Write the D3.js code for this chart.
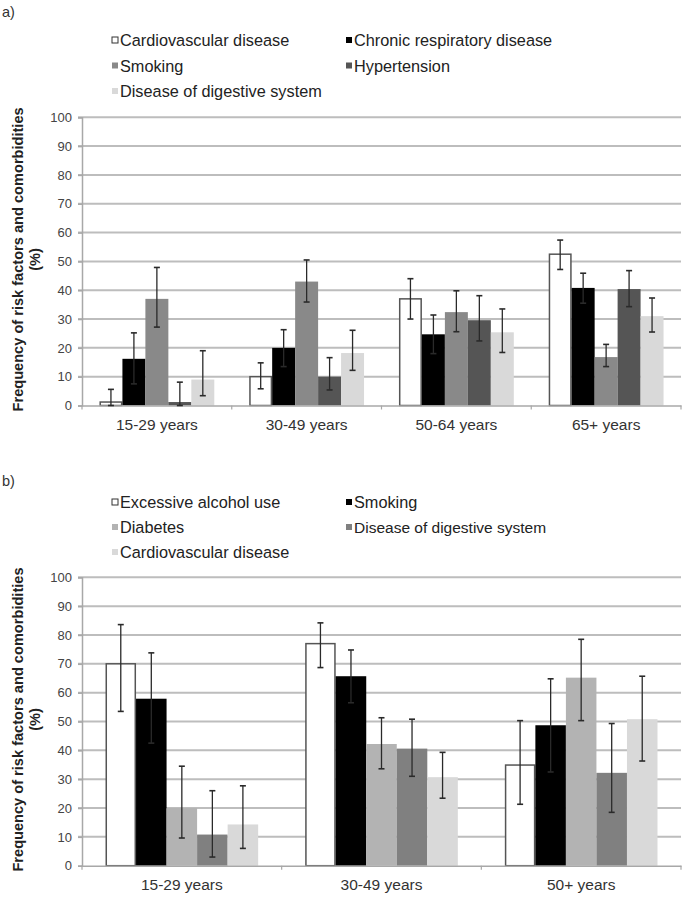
<!DOCTYPE html>
<html><head><meta charset="utf-8">
<script src="https://cdn.jsdelivr.net/npm/d3@7"></script>
<style>body{margin:0;background:#fff}svg{display:block}text{font-family:"Liberation Sans",Arial,sans-serif}</style>
</head><body><svg id="c" width="685" height="900"></svg>
<script>
// ---------- Panel a data ----------
const catsA = ["15-29 years","30-49 years","50-64 years","65+ years"];
const seriesA = ["Cardiovascular disease","Chronic respiratory disease","Smoking","Hypertension","Disease of digestive system"];
const colorsA = ["#ffffff","#000000","#898989","#555555","#d9d9d9"];
const valA_cvd  = [1.2, 10, 37, 52.5];
const valA_crd  = [16.2, 20, 24.7, 40.8];
const valA_smk  = [37, 43, 32.4, 16.8];
const valA_hyp  = [1.2, 10, 29.6, 40.4];
const valA_dig  = [9, 18.2, 25.4, 31];
const lowA_cvd  = [0, 5.8, 30, 47.2];
const lowA_crd  = [7.5, 13.5, 18, 35.5];
const lowA_smk  = [27.2, 35.9, 25.6, 13.5];
const lowA_hyp  = [0, 5.4, 22.4, 34.3];
const lowA_dig  = [3.4, 12.2, 18.4, 25.5];
const highA_cvd = [5.6, 14.8, 44, 57.4];
const highA_crd = [25.2, 26.3, 31.4, 45.9];
const highA_smk = [47.9, 50.5, 39.8, 21.2];
const highA_hyp = [8.1, 16.6, 38.1, 46.8];
const highA_dig = [19, 26.1, 33.5, 37.3];

// ---------- Panel b data ----------
const catsB = ["15-29 years","30-49 years","50+ years"];
const seriesB = ["Excessive alcohol use","Smoking","Diabetes","Disease of digestive system","Cardiovascular disease"];
const colorsB = ["#ffffff","#000000","#b3b3b3","#808080","#d9d9d9"];
const valB_alc  = [70, 77, 34.9];
const valB_smk  = [57.9, 65.7, 48.7];
const valB_dia  = [20, 42.2, 65.2];
const valB_dig  = [10.8, 40.6, 32.2];
const valB_cvd  = [14.3, 30.7, 50.8];
const lowB_alc  = [53.5, 68.7, 21.3];
const lowB_smk  = [42.5, 56.5, 32.5];
const lowB_dia  = [9.6, 33.6, 50.3];
const lowB_dig  = [3, 31, 18.5];
const lowB_cvd  = [6, 23.4, 36.3];
const highB_alc = [83.6, 84.2, 50.3];
const highB_smk = [73.8, 74.8, 64.8];
const highB_dia = [34.5, 51.3, 78.5];
const highB_dig = [26, 50.8, 49.3];
const highB_cvd = [27.7, 39.3, 65.7];

const yTicks = [0,10,20,30,40,50,60,70,80,90,100];
const yTitle1 = "Frequency of risk factors and comorbidities";
const yTitle2 = "(%)";

const svg = d3.select("#c");

function panel(opt){
  const g = svg.append("g");
  const L = 82, R = 681;
  const y = d3.scaleLinear().domain([0,100]).range([opt.y0, opt.y100]);
  const x0 = d3.scaleBand().domain(opt.cats).range([L,R]).padding(0);
  const x1 = d3.scaleBand().domain(opt.series).range([0,x0.bandwidth()]).paddingInner(0).paddingOuter(opt.outer);

  // panel label
  g.append("text").attr("x",2).attr("y",opt.labelY).attr("font-size",14.5).attr("fill","#333").text(opt.label);

  // gridlines
  g.selectAll(".grid").data(yTicks.filter(d=>d>0)).join("line")
    .attr("x1",L-4).attr("x2",R).attr("y1",d=>y(d)).attr("y2",d=>y(d))
    .attr("stroke","#bdbdbd").attr("stroke-width",2);

  // y axis
  const ya = g.append("g").attr("transform",`translate(${L},0)`)
    .call(d3.axisLeft(y).tickValues(yTicks).tickSize(4).tickPadding(6));
  ya.select(".domain").attr("stroke","#a8a8a8").attr("stroke-width",1.5);
  ya.selectAll(".tick line").attr("stroke","#a8a8a8").attr("stroke-width",1.5);
  ya.selectAll(".tick text").attr("font-size",13).attr("fill","#444").attr("font-family","Liberation Sans, Arial, sans-serif");

  // bars
  opt.series.forEach((s,i)=>{
    const vals = opt.vals[i];
    g.selectAll(null).data(opt.cats).join("rect")
      .attr("x",c=>x0(c)+x1(s)+(i===0?0.75:0))
      .attr("width",x1.bandwidth()-(i===0?1.5:0))
      .attr("y",(c,j)=>y(vals[j]))
      .attr("height",(c,j)=>y(0)-y(vals[j]))
      .attr("fill",opt.colors[i])
      .attr("stroke",i===0?"#555":"none").attr("stroke-width",i===0?1.5:0);
  });

  // bottom axis
  const xa = g.append("g").attr("transform",`translate(0,${opt.y0})`)
    .call(d3.axisBottom(x0).tickSize(0).tickPadding(13));
  xa.select(".domain").attr("stroke","#a8a8a8").attr("stroke-width",1.5);
  xa.selectAll(".tick text").attr("font-size",15.5).attr("fill","#333").attr("font-family","Liberation Sans, Arial, sans-serif");
  const bounds = opt.cats.map(c=>x0(c)).concat([R]);
  g.selectAll(".bt").data(bounds).join("line")
    .attr("x1",d=>d).attr("x2",d=>d).attr("y1",opt.y0).attr("y2",opt.y0+4)
    .attr("stroke","#a8a8a8").attr("stroke-width",1.2);

  // error bars
  opt.series.forEach((s,i)=>{
    opt.cats.forEach((c,j)=>{
      const cx = x0(c)+x1(s)+x1.bandwidth()/2;
      const lo = y(opt.low[i][j]), hi = y(opt.high[i][j]);
      g.append("line").attr("x1",cx).attr("x2",cx).attr("y1",lo).attr("y2",hi).attr("stroke","#2a2a2a").attr("stroke-width",1.3);
      [lo,hi].forEach(yy=>g.append("line").attr("x1",cx-3).attr("x2",cx+3).attr("y1",yy).attr("y2",yy).attr("stroke","#2a2a2a").attr("stroke-width",1.6));
    });
  });

  // legend
  const lx = [112, 346];
  opt.series.forEach((s,i)=>{
    const col = i%2, row = Math.floor(i/2);
    const sx = lx[col], sy = opt.legY + row*opt.legStep;
    g.append("rect").attr("x",sx).attr("y",sy-3).attr("width",6).attr("height",6)
      .attr("fill",opt.colors[i]).attr("stroke",i===0?"#333":"none").attr("stroke-width",1);
    const t = g.append("text").attr("x",sx+8).attr("y",sy).attr("dominant-baseline","central")
      .attr("font-size",16.3).attr("fill","#222").text(s);
    if(opt.altFont && opt.altFont===s) t.attr("font-family","Open Sans, sans-serif").attr("font-size",15.5);
  });

  // y title
  const cy = (opt.y0+opt.y100)/2 - 2;
  g.append("text").attr("transform",`translate(18,${cy}) rotate(-90)`).attr("text-anchor","middle")
    .attr("dominant-baseline","central").attr("font-size",14.6).attr("font-weight","bold").attr("fill","#222").text(yTitle1);
  g.append("text").attr("transform",`translate(35,${cy}) rotate(-90)`).attr("text-anchor","middle")
    .attr("dominant-baseline","central").attr("font-size",14.6).attr("font-weight","bold").attr("fill","#222").text(yTitle2);
}

panel({
  label:"a)", labelY:17, cats:catsA, series:seriesA, colors:colorsA,
  vals:[valA_cvd,valA_crd,valA_smk,valA_hyp,valA_dig],
  low:[lowA_cvd,lowA_crd,lowA_smk,lowA_hyp,lowA_dig],
  high:[highA_cvd,highA_crd,highA_smk,highA_hyp,highA_dig],
  y0:405.5, y100:117.3, outer:0.76, legY:40, legStep:25.5
});
panel({
  label:"b)", labelY:486, cats:catsB, series:seriesB, colors:colorsB,
  vals:[valB_alc,valB_smk,valB_dia,valB_dig,valB_cvd],
  low:[lowB_alc,lowB_smk,lowB_dia,lowB_dig,lowB_cvd],
  high:[highB_alc,highB_smk,highB_dia,highB_dig,highB_cvd],
  y0:865.7, y100:577.3, outer:0.77, legY:502, legStep:25, altFont:"Disease of digestive system"
});
</script></body></html>
